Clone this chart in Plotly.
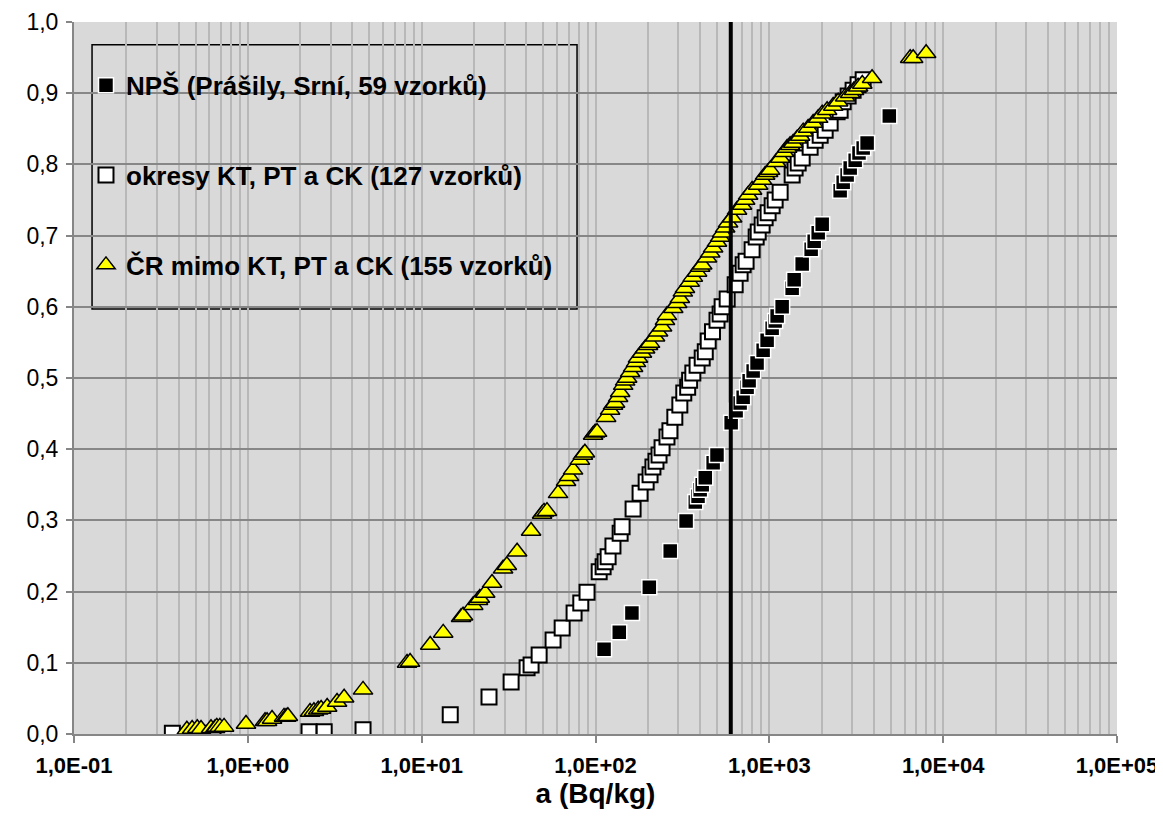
import plotly.graph_objects as go

# ---------------- data ----------------
nps_name = "NPŠ (Prášily, Srní, 59 vzorků)"
nps_a = [112, 137, 162, 204, 269, 332, 375, 389, 400, 411, 428, 475, 500, 603, 644,
         679, 707, 745, 765, 807, 850, 921, 971, 1038, 1080, 1109, 1185, 1353, 1389,
         1545, 1740, 1811, 1910, 2014, 2555, 2660, 2802, 2918, 3117, 3280, 3466, 3652, 4900]
nps_p = [0.119, 0.143, 0.170, 0.206, 0.257, 0.299, 0.326, 0.334, 0.343, 0.350, 0.360,
         0.381, 0.392, 0.437, 0.454, 0.465, 0.473, 0.487, 0.496, 0.510, 0.521, 0.539,
         0.553, 0.570, 0.580, 0.587, 0.600, 0.626, 0.638, 0.660, 0.681, 0.692, 0.704,
         0.716, 0.763, 0.775, 0.785, 0.795, 0.806, 0.816, 0.823, 0.830, 0.868]

okr_name = "okresy KT, PT a CK (127 vzorků)"
okr_a = [0.368, 0.605, 0.63, 2.25, 2.75, 4.6, 14.6, 24.4, 32.7, 40.4, 42.6, 47.4, 57.0,
         64.3, 75.3, 82.3, 89.4, 105, 110.6, 113.6, 118.2, 126, 138.6, 142.2, 164.5,
         180.5, 195.6, 206, 214, 222.8, 232, 241.5, 257.7, 268, 286, 305.6, 322, 339,
         348, 363, 384, 411, 428, 445, 471, 500, 521, 535, 572, 636, 679, 707, 735, 796,
         840, 863, 909, 946, 984, 1038, 1080, 1154, 1353, 1407, 1465, 1545, 1717, 1835,
         1961, 2095, 2238, 2454, 2555, 2660, 2840, 3033, 3240, 3466]
okr_p = [0.001, 0.001, 0.0, 0.003, 0.003, 0.006, 0.027, 0.052, 0.073, 0.093, 0.097,
         0.111, 0.132, 0.149, 0.170, 0.184, 0.199, 0.228, 0.235, 0.242, 0.249, 0.264,
         0.282, 0.291, 0.316, 0.338, 0.354, 0.364, 0.375, 0.383, 0.392, 0.402, 0.417,
         0.426, 0.445, 0.462, 0.479, 0.487, 0.497, 0.507, 0.518, 0.528, 0.537, 0.552,
         0.565, 0.581, 0.590, 0.600, 0.611, 0.631, 0.647, 0.659, 0.664, 0.680, 0.698,
         0.705, 0.715, 0.725, 0.732, 0.742, 0.750, 0.761, 0.785, 0.795, 0.802, 0.809,
         0.824, 0.834, 0.841, 0.848, 0.858, 0.874, 0.876, 0.888, 0.896, 0.904, 0.912,
         0.919]

cr_name = "ČR mimo KT, PT a CK (155 vzorků)"
cr_a = [0.446, 0.478, 0.512, 0.538, 0.614, 0.648, 0.663, 0.69, 0.73, 0.976, 1.256, 1.29,
        1.378, 1.615, 1.66, 1.70, 2.28, 2.40, 2.54, 2.64, 2.86, 3.26, 3.58, 4.6, 8.24,
        8.58, 11.2, 13.3, 16.85, 17.3, 19.8, 21.1, 21.6, 23.2, 25.4, 29.4, 30.9, 35.4,
        42.6, 49.3, 50.6, 52.6, 60.9, 67.7, 70.5, 74.3, 81.3, 84.6, 86.9, 96.9, 99.5,
        102.1, 115.1, 121.3, 126.2, 129.6, 134.9, 138.6, 144.3, 148.1, 152.1, 158.2,
        164.5, 171, 175.6, 185, 192.9, 200.6, 206, 220, 229, 241.5, 251, 257.7, 280,
        295, 305.6, 318, 327, 348, 363, 384, 400, 411, 438, 457, 475, 500, 521, 535,
        557, 579, 611, 652, 697, 726, 755, 796, 863, 909, 946, 984, 1011, 1094, 1154,
        1216, 1266, 1317, 1371, 1445, 1504, 1566, 1672, 1787, 1910, 2014, 2150, 2330,
        2488, 2730, 2918, 3070, 3240, 3425, 3900, 6460, 6720, 7980]
cr_p = [0.006, 0.007, 0.008, 0.007, 0.008, 0.008, 0.010, 0.010, 0.010, 0.014, 0.018,
        0.018, 0.021, 0.024, 0.024, 0.025, 0.031, 0.032, 0.034, 0.035, 0.038, 0.045,
        0.051, 0.062, 0.0997, 0.101, 0.125, 0.142, 0.164, 0.166, 0.181, 0.188, 0.191,
        0.198, 0.212, 0.232, 0.237, 0.256, 0.285, 0.309, 0.312, 0.313, 0.338, 0.355,
        0.362, 0.371, 0.385, 0.392, 0.395, 0.420, 0.423, 0.424, 0.445, 0.455, 0.462,
        0.465, 0.473, 0.480, 0.490, 0.496, 0.500, 0.508, 0.515, 0.522, 0.528, 0.535,
        0.541, 0.546, 0.549, 0.558, 0.565, 0.572, 0.581, 0.588, 0.598, 0.605, 0.612,
        0.621, 0.626, 0.635, 0.642, 0.649, 0.656, 0.659, 0.669, 0.676, 0.683, 0.691,
        0.698, 0.704, 0.711, 0.718, 0.725, 0.736, 0.743, 0.750, 0.757, 0.764, 0.771,
        0.778, 0.785, 0.789, 0.792, 0.803, 0.809, 0.817, 0.823, 0.827, 0.830, 0.836,
        0.840, 0.846, 0.851, 0.858, 0.865, 0.871, 0.876, 0.882, 0.888, 0.895, 0.900,
        0.904, 0.909, 0.913, 0.921, 0.949, 0.949, 0.956]

limit_a = 600  # vertical reference line (Bq/kg)

x_tickvals = [0.1, 1, 10, 100, 1000, 10000, 100000]
x_ticktext = ["1,0E-01", "1,0E+00", "1,0E+01", "1,0E+02", "1,0E+03", "1,0E+04", "1,0E+05"]
y_tickvals = [0.0, 0.1, 0.2, 0.3, 0.4, 0.5, 0.6, 0.7, 0.8, 0.9, 1.0]
y_ticktext = ["0,0", "0,1", "0,2", "0,3", "0,4", "0,5", "0,6", "0,7", "0,8", "0,9", "1,0"]
x_title = "a (Bq/kg)"

# ---------------- figure ----------------
FONT = "Liberation Sans, Arial, sans-serif"
fig = go.Figure()

fig.add_trace(go.Scatter(
    x=nps_a, y=nps_p, mode="markers", name=nps_name, legendgroup="g1",
    marker=dict(symbol="square", size=15, color="#000000",
                line=dict(color="#ffffff", width=1.5)),
))
fig.add_trace(go.Scatter(
    x=okr_a, y=okr_p, mode="markers", name=okr_name, legendgroup="g2",
    marker=dict(symbol="square", size=15, color="#ffffff",
                line=dict(color="#000000", width=2)),
))
fig.add_trace(go.Scatter(
    x=cr_a, y=cr_p, mode="markers", name=cr_name, legendgroup="g3",
    marker=dict(symbol="triangle-up", size=17, color="#ffff00",
                line=dict(color="#000000", width=1.5)),
))

# vertical limit line
fig.add_shape(type="line", xref="x", yref="y", x0=limit_a, x1=limit_a, y0=0, y1=1,
              line=dict(color="#000000", width=4), layer="above")

# legend frame
fig.add_shape(type="rect", xref="paper", yref="paper",
              x0=0.0173, x1=0.4823, y0=0.597, y1=0.968,
              fillcolor="#d9d9d9", line=dict(color="#000000", width=1.5),
              layer="between")

fig.update_layout(
    width=1155, height=816,
    margin=dict(l=66, r=46, t=14, b=90),
    paper_bgcolor="#ffffff",
    plot_bgcolor="#d9d9d9",
    font=dict(family=FONT, color="#000000"),
    showlegend=True,
    legend=dict(
        x=0.0115, y=0.944, xanchor="left", yanchor="top",
        bgcolor="rgba(0,0,0,0)", borderwidth=0,
        font=dict(family=FONT, size=26, color="#000000", weight="bold"),
        tracegroupgap=53, itemwidth=30,
    ),
)

fig.update_xaxes(
    type="log", range=[-1, 5], automargin=False,
    tickmode="array", tickvals=x_tickvals, ticktext=x_ticktext,
    tickfont=dict(family=FONT, size=22, weight="bold"),
    ticks="outside", ticklen=7, tickcolor="#868686", tickwidth=1.5,
    ticklabelstandoff=4,
    showgrid=True, gridcolor="#b8b8b8", gridwidth=2,
    minor=dict(dtick="D1", showgrid=True, gridcolor="#b8b8b8", gridwidth=2, ticks=""),
    showline=True, linecolor="#868686", linewidth=2,
    zeroline=False,
    title=dict(text=x_title, font=dict(family=FONT, size=28, weight="bold"), standoff=0),
)
fig.update_yaxes(
    range=[0, 1], automargin=False,
    tickmode="array", tickvals=y_tickvals, ticktext=y_ticktext,
    tickfont=dict(family=FONT, size=23),
    ticks="outside", ticklen=6, tickcolor="#868686", tickwidth=1.5,
    ticklabelstandoff=3,
    showgrid=True, gridcolor="#878787", gridwidth=2,
    showline=True, linecolor="#868686", linewidth=2,
    zeroline=False,
)

fig.write_html("out.html")
